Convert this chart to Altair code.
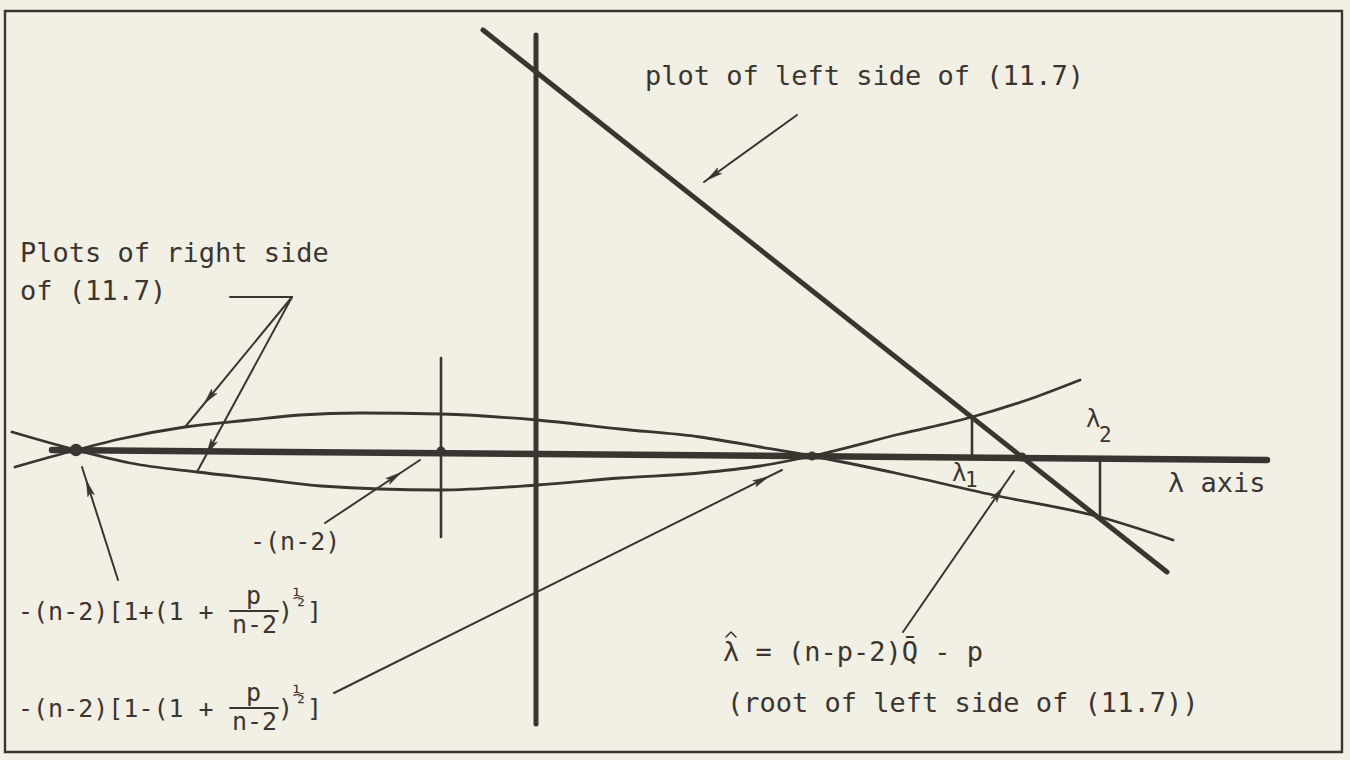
import math
import altair as alt
import pandas as pd

W, H = 1350, 760
PAPER = "#f2efe4"
INK = "#3a3531"
FONT = "DejaVu Sans Mono"

# Frame around the figure
frame_x = [5, 1342]
frame_y = [11, 752]

# lambda axis, vertical reference axis, straight plot of left side of (11.7)
axis_x = [52, 1267]
axis_y = [450, 460]
vert_x = [536, 536]
vert_y = [35, 724]
left_x = [483, 1167]
left_y = [30, 572]

# The two plots of the right side of (11.7)
right_a_x = [15, 76, 120, 185, 250, 300, 360, 441, 537, 620, 700, 760, 812, 900, 993, 1100, 1173]
right_a_y = [467, 450, 439, 427, 420, 415, 413, 414, 420, 429, 437, 447, 456, 474, 495, 517, 540]
right_b_x = [12, 76, 130, 197, 260, 321, 439, 537, 620, 700, 760, 812, 900, 972, 1030, 1080]
right_b_y = [432, 450, 463, 472, 479, 486, 490, 485, 478, 473, 466, 456, 434, 417, 399, 380]

# Short markers: -(n-2), lambda_1 and lambda_2
marker_x0 = [441, 972, 1100]
marker_y0 = [358, 417, 459]
marker_x1 = [441, 972, 1100]
marker_y1 = [537, 457, 518]

# Nodes on the lambda axis
node_x = [76, 441, 812, 1022]
node_y = [450, 451, 456, 457]
node_r = [7, 5, 5, 5]

# Leader arrows: start, tip, and where the head sits along the line
arrow_x0 = [797, 292, 292, 325, 118, 334, 903]
arrow_y0 = [115, 297, 297, 523, 580, 693, 632]
arrow_x1 = [704, 185, 197, 420, 82, 782, 1014]
arrow_y1 = [182, 427, 472, 460, 467, 470, 471]
arrow_head = [0.97, 0.82, 0.9, 0.8, 0.88, 0.97, 0.9]

# Plain leader segment under "of (11.7)"
seg_x = [230, 292]
seg_y = [297, 297]

# Fraction bars of the two root formulas
bar_x0 = [230, 230]
bar_x1 = [278, 278]
bar_y = [611, 708]

# Hat over the lambda of the estimator
hat_x = [726, 731, 736]
hat_y = [637, 632, 637]

# Text: string, left x, baseline y, font size
texts = [
    ("plot of left side of (11.7)", 645, 85, 27),
    ("Plots of right side", 20, 262, 27),
    ("of (11.7)", 20, 300, 27),
    ("-(n-2)", 250, 550, 25),
    ("-(n-2)[1+(1 +", 18, 620, 25),
    ("p", 246, 604, 25),
    ("n-2", 232, 633, 25),
    (")", 278, 620, 25),
    ("\u00bd", 293, 604, 20),
    ("]", 307, 620, 25),
    ("-(n-2)[1-(1 +", 18, 717, 25),
    ("p", 246, 701, 25),
    ("n-2", 232, 730, 25),
    (")", 278, 717, 25),
    ("\u00bd", 293, 701, 20),
    ("]", 307, 717, 25),
    ("\u03bb = (n-p-2)Q\u0304 - p", 723, 661, 27),
    ("(root of left side of (11.7))", 727, 712, 27),
    ("\u03bb axis", 1168, 492, 27),
    ("\u03bb", 952, 481, 24),
    ("1", 965, 487, 21),
    ("\u03bb", 1086, 427, 24),
    ("2", 1099, 442, 21),
]


def polyline(name, xs, ys):
    return pd.DataFrame({"id": name, "k": range(len(xs)), "x": xs, "y": ys})


xs = alt.Scale(domain=[0, W], nice=False, zero=False)
ys = alt.Scale(domain=[0, H], nice=False, zero=False, reverse=True)
X = alt.X("x:Q", scale=xs, axis=None)
Y = alt.Y("y:Q", scale=ys, axis=None)


def lines(df, width, interp="linear"):
    return alt.Chart(df).mark_line(
        color=INK, strokeWidth=width, interpolate=interp, strokeCap="round",
        strokeJoin="round"
    ).encode(x=X, y=Y, detail="id:N", order="k:Q")


frame = alt.Chart(pd.DataFrame({"x": [frame_x[0]], "x2": [frame_x[1]],
                                "y": [frame_y[0]], "y2": [frame_y[1]]})).mark_rect(
    filled=False, stroke=INK, strokeWidth=2.4
).encode(x=X, x2="x2:Q", y=Y, y2="y2:Q")

axis_layer = lines(polyline("axis", axis_x, axis_y), 6.5)
vert_layer = lines(polyline("vert", vert_x, vert_y), 5)
left_layer = lines(polyline("left", left_x, left_y), 5)

curves = pd.concat([polyline("a", right_a_x, right_a_y),
                    polyline("b", right_b_x, right_b_y)])
curve_layer = lines(curves, 2.8, "monotone")

markers = pd.concat([polyline(f"m{i}", [marker_x0[i], marker_x1[i]], [marker_y0[i], marker_y1[i]])
                     for i in range(len(marker_x0))])
marker_layer = lines(markers, 2.6)

arrow_lines = pd.concat(
    [polyline(f"a{i}", [arrow_x0[i], arrow_x1[i]], [arrow_y0[i], arrow_y1[i]])
     for i in range(len(arrow_x0))]
    + [polyline("seg", seg_x, seg_y)]
)
arrow_layer = lines(arrow_lines, 2)

bars = pd.concat([polyline(f"f{i}", [bar_x0[i], bar_x1[i]], [bar_y[i], bar_y[i]])
                  for i in range(len(bar_y))])
bar_layer = lines(bars, 1.8)
hat_layer = lines(polyline("hat", hat_x, hat_y), 1.5)

heads = []
for x0, y0, x1, y1, t in zip(arrow_x0, arrow_y0, arrow_x1, arrow_y1, arrow_head):
    dx, dy = x1 - x0, y1 - y0
    heads.append({
        "x": x0 + dx * t,
        "y": y0 + dy * t,
        "angle": (math.degrees(math.atan2(dx, -dy)) + 360) % 360,
    })
head_layer = alt.Chart(pd.DataFrame(heads)).mark_point(
    shape="M0,0L-0.42,1.9L0,1.5L0.42,1.9Z", filled=True, fill=INK, stroke=INK,
    strokeWidth=0.5, size=280, opacity=1
).encode(x=X, y=Y, angle=alt.Angle("angle:Q", scale=None))

nodes = pd.DataFrame({"x": node_x, "y": node_y, "s": [math.pi * r * r for r in node_r]})
node_layer = alt.Chart(nodes).mark_circle(color=INK, opacity=1).encode(
    x=X, y=Y, size=alt.Size("s:Q", scale=None, legend=None)
)

text_df = pd.DataFrame(texts, columns=["text", "x", "y", "size"])
text_layer = alt.Chart(text_df).mark_text(
    align="left", baseline="alphabetic", font=FONT, color=INK
).encode(x=X, y=Y, text="text:N", size=alt.Size("size:Q", scale=None, legend=None))

chart = alt.layer(
    frame, curve_layer, axis_layer, vert_layer, left_layer, marker_layer,
    arrow_layer, bar_layer, hat_layer, head_layer, node_layer, text_layer
).properties(
    width=W, height=H, padding=0, autosize="none", background=PAPER
).configure_view(stroke=None)

chart.save("out.html", embed_options={"renderer": "svg", "actions": False})
